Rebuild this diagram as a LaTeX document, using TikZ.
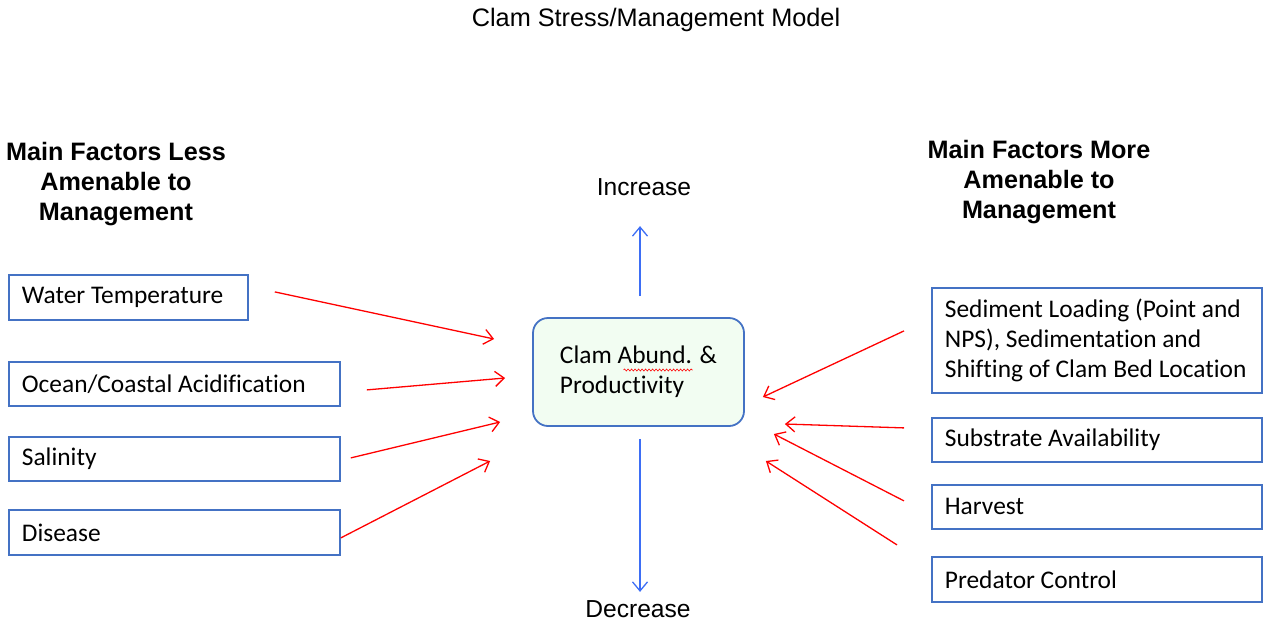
\documentclass[tikz,border=0pt]{standalone}
\usepackage{fontspec}
\setmainfont{Liberation Sans}
\newfontfamily\calibri[Ligatures=NoCommon]{Carlito}
\usetikzlibrary{positioning,calc,arrows.meta,decorations.pathmorphing}
\definecolor{boxblue}{HTML}{4472C4}
\definecolor{arrblue}{HTML}{3D6EF5}
\definecolor{clamfill}{HTML}{F2FDF2}

\begin{document}
\begin{tikzpicture}[x=1pt,y=-1pt,
  factor/.style={draw=boxblue,line width=1.8pt,anchor=north west,inner xsep=13pt,align=flush left,
    font=\calibri\fontsize{25.4}{30}\selectfont},
  head/.style={align=center,font=\bfseries\fontsize{25.2}{30}\selectfont},
  push/.style={->,red,line width=1.3pt},
  trend/.style={->,arrblue,line width=1.3pt},
  >={Straight Barb[length=9pt,width=15pt]}]
\useasboundingbox (0,0) rectangle (1265,624);
\node (title) at (656,20) {\fontsize{25.3}{30}\selectfont Clam Stress/Management Model};
\node [head] (lesshead) at (116,184) {Main Factors Less\\Amenable to\\Management};
\node [head] (morehead) at (1039,182) {Main Factors More\\Amenable to\\Management};

\node [factor,text width=213pt,minimum height=45pt] (water) at (8,274) {Water Temperature};
\node [factor,text width=305pt,minimum height=44pt] (ocean) at (8,361) {Ocean/Coastal Acidification};
\node [factor,text width=305pt,minimum height=44pt] (salinity) at (8,436) {Salinity};
\node [factor,text width=305pt,minimum height=45pt] (disease) at (8,509) {Disease};

\node [factor,text width=304pt,minimum height=105pt] (sediment) at (931,287) {Sediment Loading (Point and\\NPS), Sedimentation and\\Shifting of Clam Bed Location};
\node [factor,text width=304pt,minimum height=44pt] (substrate) at (931,417) {Substrate Availability};
\node [factor,text width=304pt,minimum height=44pt] (harvest) at (931,484) {Harvest};
\node [factor,text width=304pt,minimum height=45pt] (predator) at (931,556) {Predator Control};

\node [draw=boxblue,line width=1.8pt,fill=clamfill,rounded corners=15pt,minimum width=211pt,minimum height=108pt,
  align=left,font=\calibri\fontsize{25.4}{30}\selectfont] (clam) at (638.5,372) {Clam Abund. \&\\Productivity};
\draw [red,line width=0.6pt,decorate,decoration={snake,amplitude=1pt,segment length=3.5pt}]
  ($(clam.center)+(-15,-2)$) -- ($(clam.center)+(54,-2)$);

\node [font=\fontsize{24.6}{28}\selectfont] (up) at (644,187) {Increase};
\node [font=\fontsize{24.6}{28}\selectfont] (down) at (638,609) {Decrease};
\draw [trend] ($(clam.north)+(1.5,-21)$) -- ($(clam.north)+(1.5,-91)$);
\draw [trend] ($(clam.south)+(1.5,12)$) -- ($(clam.south)+(1.5,165)$);

\draw [push] ($(water.east)+(26,-5.5)$) -- ($(clam.west)+(-38,-33)$);
\draw [push] ($(ocean.east)+(26,6)$) -- ($(clam.west)+(-27,6)$);
\draw [push] ($(salinity.east)+(10,-1)$) -- ($(clam.west)+(-32,50)$);
\draw [push] ($(disease.east)+(0,5.5)$) -- ($(clam.west)+(-42,89)$);
\draw [push] ($(sediment.west)+(-27,-9.5)$) -- ($(clam.east)+(18,25)$);
\draw [push] ($(substrate.west)+(-27,-12)$) -- ($(clam.east)+(40,52)$);
\draw [push] ($(harvest.west)+(-27,-6)$) -- ($(clam.east)+(29,62)$);
\draw [push] ($(predator.west)+(-34,-34.5)$) -- ($(clam.east)+(21,89)$);
\end{tikzpicture}
\end{document}
